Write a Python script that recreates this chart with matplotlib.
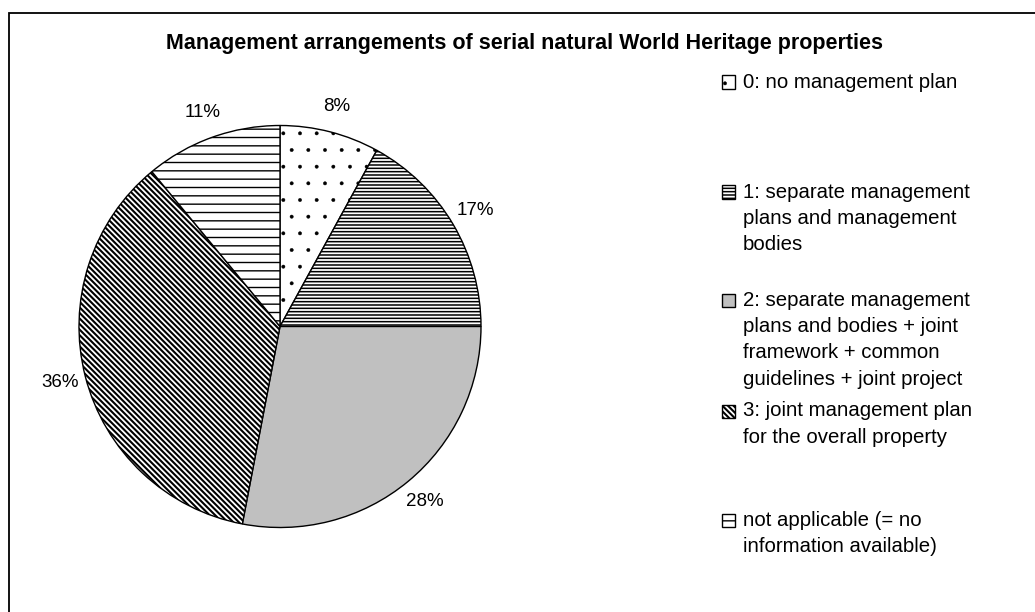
import matplotlib
matplotlib.use("Agg")
import matplotlib.pyplot as plt
from matplotlib.patches import Rectangle

plt.rcParams['font.family'] = ['Liberation Sans', 'DejaVu Sans']

title = "Management arrangements of serial natural World Heritage properties"
categories = [
    "0: no management plan",
    "1: separate management\nplans and management\nbodies",
    "2: separate management\nplans and bodies + joint\nframework + common\nguidelines + joint project",
    "3: joint management plan\nfor the overall property",
    "not applicable (= no\ninformation available)",
]
shares = [8, 17, 28, 36, 11]

W, H = 1035, 612
fig = plt.figure(figsize=(W / 100, H / 100), dpi=100)

def fx(px):
    return px / W

def fy(py):
    return 1 - py / H

# chart frame (only top and left edges fall within the picture)
fig.patches.append(Rectangle((fx(9), fy(700)), fx(1100), fy(13) - fy(700),
                             transform=fig.transFigure, fill=False,
                             edgecolor='black', lw=1.3))

styles = [
    dict(facecolor='white', hatch='.'),
    dict(facecolor='white', hatch='-----'),
    dict(facecolor='#C0C0C0', hatch=None),
    dict(facecolor='white', hatch='\\' * 6),
    dict(facecolor='white', hatch='--'),
]
hatch_lw = [0.3, 1.1, 1.0, 1.5, 1.0]


def set_hlw(p, lw):
    if hasattr(p, 'set_hatch_linewidth'):
        p.set_hatch_linewidth(lw)
    else:
        p._hatch_linewidth = lw


cx, cy, r = 280, 326.5, 201
ax = fig.add_axes([fx(cx - r), fy(cy + r), 2 * r / W, 2 * r / H])
wedges, texts, autotexts = ax.pie(
    shares, startangle=90, counterclock=False, radius=1,
    autopct='%1.0f%%', pctdistance=1.13,
    wedgeprops=dict(edgecolor='black', linewidth=1.0),
    textprops=dict(fontsize=13.5, color='black'))
for w, st, hl in zip(wedges, styles, hatch_lw):
    w.set_facecolor(st['facecolor'])
    if st['hatch']:
        w.set_hatch(st['hatch'])
    set_hlw(w, hl)
ax.set_xlim(-1, 1)
ax.set_ylim(-1, 1)
ax.set_aspect('equal')
ax.axis('off')

fig.text(fx(524), fy(43), title, ha='center', va='center', fontsize=15.5,
         fontweight='bold')

# legend
entry_y = [82, 192, 300, 411, 520]
line_h = 26.5
for lab, ey, st, hl in zip(categories, entry_y, styles, hatch_lw):
    sq = Rectangle((fx(722), fy(ey + 6.5)), 13 / W, 13 / H, transform=fig.transFigure,
                   facecolor=st['facecolor'], edgecolor='black', lw=1.0,
                   hatch=st['hatch'])
    set_hlw(sq, hl)
    fig.patches.append(sq)
    for i, line in enumerate(lab.split("\n")):
        fig.text(fx(743), fy(ey + i * line_h), line, ha='left', va='center',
                 fontsize=14.7)

fig.savefig("out.png", dpi=100)
